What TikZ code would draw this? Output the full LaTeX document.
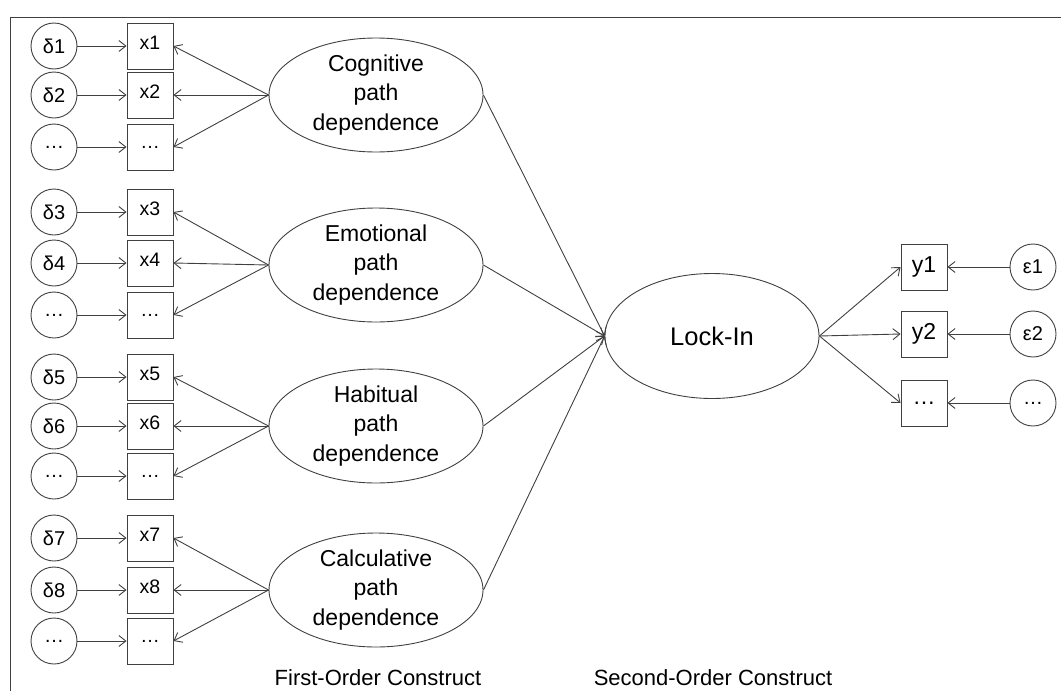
\documentclass[tikz,border=0pt]{standalone}
\usepackage{fontspec}
\setmainfont{Liberation Sans}
\usetikzlibrary{arrows.meta,shapes.geometric}
\begin{document}
\begin{tikzpicture}[x=1pt,y=-1pt,
 line/.style={draw=black!75, line width=0.9pt},
 arr/.style={black!75, line width=0.9pt, -{Straight Barb[length=7pt,width=11pt]}},
 ind/.style={line, rectangle, minimum width=46pt, minimum height=46pt, inner sep=0pt, font=\fontsize{19.5}{22}\selectfont, text depth=7pt},
 dotbox/.style={line, rectangle, minimum width=46pt, minimum height=46pt, inner sep=0pt, font=\fontsize{19.5}{22}\selectfont},
 yind/.style={line, rectangle, minimum width=46pt, minimum height=46pt, inner sep=0pt, font=\fontsize{23}{26}\selectfont},
 err/.style={line, circle, minimum size=46pt, inner sep=0pt, font=\fontsize{20}{22}\selectfont},
 lat/.style={line, ellipse, minimum width=214pt, minimum height=114pt, inner sep=0pt, align=center, font=\fontsize{23}{29.5}\selectfont},
 captxt/.style={font=\fontsize{22}{24}\selectfont, inner sep=0pt},
 ]
\useasboundingbox (0,0) rectangle (1061,691);
\draw[line] (1061,17) -- (10,17) -- (10,691);

% first-order latents
\node[lat] (cog) at (376,95) {Cognitive\\path\\dependence};
\node[lat] (emo) at (376,265) {Emotional\\path\\dependence};
\node[lat] (hab) at (376,426) {Habitual\\path\\dependence};
\node[lat] (cal) at (376,590) {Calculative\\path\\dependence};

% indicators and errors
\foreach \g/\ya/\yb/\yc/\la/\lb/\da/\db in {cog/46/95/147/x1/x2/1/2, emo/212/263/315/x3/x4/3/4, hab/377/426/476/x5/x6/5/6, cal/538/590/641/x7/x8/7/8}{
  \node[ind] (\g-a) at (150,\ya) {\la};
  \node[ind] (\g-b) at (150,\yb) {\lb};
  \node[dotbox] (\g-c) at (150,\yc) {\dots};
  \node[err] (\g-da) at (54,\ya) {δ\da};
  \node[err] (\g-db) at (54,\yb) {δ\db};
  \node[err] (\g-dc) at (54,\yc) {\dots};
  \draw[arr] (\g-da) -- (\g-a);
  \draw[arr] (\g-db) -- (\g-b);
  \draw[arr] (\g-dc) -- (\g-c);
  \draw[arr] (\g.west) -- (\g-a.east);
  \draw[arr] (\g.west) -- (\g-b.east);
  \draw[arr] (\g.west) -- (\g-c.east);
}

% second-order
\node[lat, minimum width=214pt, minimum height=125pt, font=\fontsize{25.5}{28}\selectfont] (lock) at (712,336) {Lock-In};
\foreach \g in {cog,emo,hab,cal}{
  \draw[arr] (\g.east) -- (lock.west);
}

\node[yind] (y1) at (924,267) {y1};
\node[yind] (y2) at (924,334) {y2};
\node[yind] (y3) at (924,403) {\dots};
\node[err] (e1) at (1033,267) {ε1};
\node[err] (e2) at (1033,334) {ε2};
\node[err] (e3) at (1033,403) {\dots};
\foreach \i in {1,2,3}{
  \draw[arr] (lock.east) -- (y\i.west);
  \draw[arr] (e\i) -- (y\i);
}

\node[captxt] (c1) at (378,678) {First-Order Construct};
\node[captxt] (c2) at (713,678) {Second-Order Construct};
\end{tikzpicture}
\end{document}
